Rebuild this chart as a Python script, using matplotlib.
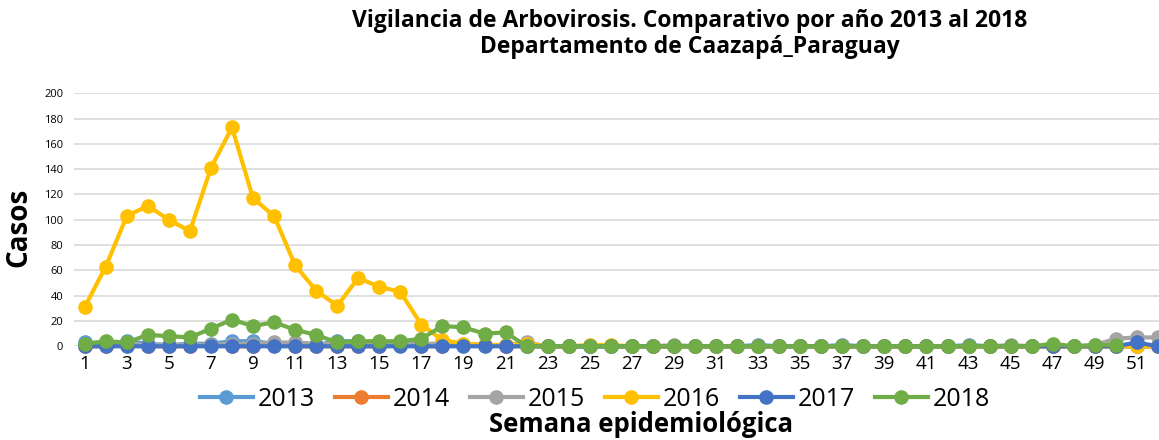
import numpy as np
import matplotlib.pyplot as plt

plt.rcParams['font.family'] = ['Open Sans', 'DejaVu Sans']

weeks = list(range(1, 53))

y2013 = [3, 1, 4, 2, 1, 2, 2, 4, 4, 2, 1, 1, 4, 4, 2, 3, 2, 1, 1, 1, 0, 1,
         0, 0, 0, 0, 0, 0, 0, 0, 0, 0, 1, 0, 0, 0, 1, 0, 0, 0, 0, 0, 1, 0,
         0, 0, 0, 0, 0, 0, 0, 0]
y2014 = [0, 0, 1, 0, 0, 0, 1, 0, 0, 1, 0, 0, 0, 0, 0, 1, 0, 0, 1, 1, 0, 0,
         0, 0, 0, 0, 0, 0, 0, 0, 0, 0, 0, 0, 0, 0, 0, 0, 0, 0, 0, 0, 0, 0,
         0, 0, 0, 0, 0, 0, 0, 0]
y2015 = [1, 1, 2, 1, 1, 1, 1, 2, 2, 3, 3, 2, 2, 2, 1, 2, 2, 2, 2, 1, 1, 3,
         0, 0, 0, 0, 0, 0, 1, 0, 0, 0, 0, 0, 0, 0, 0, 0, 0, 0, 0, 0, 0, 0,
         1, 0, 0, 0, 1, 6, 7, 7]
y2016 = [31, 63, 103, 111, 100, 91, 141, 173, 117, 103, 64, 44, 32, 54, 47,
         43, 17, 5, 2, 1, 1, 2, 0, 0, 1, 1, 0, 0, 0, 0, 0, 0, 0, 0, 0, 0, 0,
         0, 0, 0, 0, 0, 0, 0, 0, 0, 0, 0, 0, 0, 0, 0]
y2017 = [0, 0, 0, 0, 0, 0, 0, 0, 0, 0, 0, 0, 0, 0, 0, 0, 0, 0, 0, 0, 0, 0,
         0, 0, 0, 0, 0, 0, 0, 0, 0, 0, 0, 0, 0, 0, 0, 0, 0, 0, 0, 0, 0, 0,
         0, 0, 0, 0, 0, 0, 3, 0]
y2018 = [2, 4, 3, 9, 8, 7, 14, 21, 16, 19, 13, 9, 3, 4, 4, 4, 6, 16, 15, 10,
         11, 0, 0, 0, 0, 0, 0, 0, 0, 0, 0, 0, 0, 0, 0, 0, 0, 0, 0, 0, 0, 0,
         0, 0, 0, 0, 2, 0, 1, 1]

series = [
    ("2013", y2013, "#5B9BD5"),
    ("2014", y2014, "#ED7D31"),
    ("2015", y2015, "#A5A5A5"),
    ("2016", y2016, "#FFC000"),
    ("2017", y2017, "#4472C4"),
    ("2018", y2018, "#70AD47"),
]

fig = plt.figure(figsize=(11.59, 4.4), dpi=100)
ax = fig.add_axes([0.064, 0.213, 0.936, 0.575])

for name, vals, col in series:
    ax.plot(weeks[:len(vals)], vals, color=col, lw=3, marker="o",
            markersize=9.5, label=name, clip_on=False)

ax.set_ylim(0, 200)
ax.set_xlim(0.5, 52.05)
ax.set_yticks(range(0, 201, 20))
ax.set_xticks(range(1, 52, 2))
ax.tick_params(axis="y", labelsize=8, length=0, pad=8)
ax.tick_params(axis="x", labelsize=13.5, length=0, pad=6)
ax.grid(axis="y", color="#D9D9D9", lw=1.2)
ax.set_axisbelow(True)
for s in ax.spines.values():
    s.set_visible(False)

ax.set_ylabel("Casos", fontsize=20, fontweight="bold")
ax.yaxis.set_label_coords(-0.038, 0.47)
fig.text(0.553, 0.004, "Semana epidemiológica", ha="center", va="bottom",
         fontsize=18.5, fontweight="bold")
fig.text(0.595, 0.98, "Vigilancia de Arbovirosis. Comparativo por año 2013 al 2018\n"
         "Departamento de Caazapá_Paraguay", ha="center", va="top",
         fontsize=16.5, fontweight="bold", linespacing=1.1)

ax.legend(loc="center", bbox_to_anchor=(0.513, 0.093), bbox_transform=fig.transFigure,
          ncol=6, frameon=False, fontsize=18, handlelength=2.15,
          handletextpad=0.16, columnspacing=0.8, borderaxespad=0)

fig.savefig("out.png", dpi=100)
